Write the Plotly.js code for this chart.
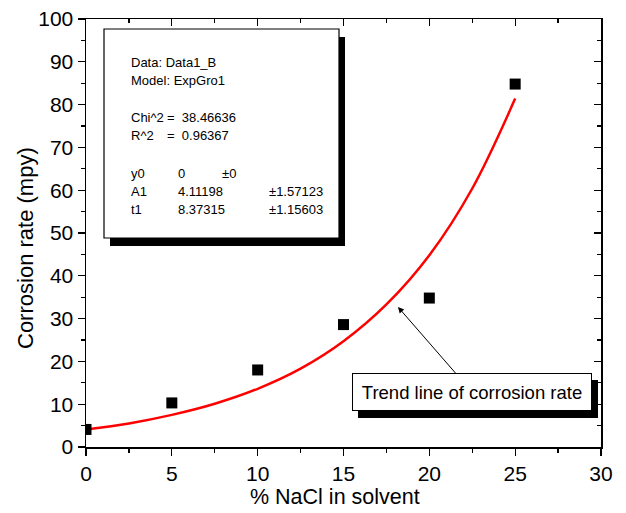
<!DOCTYPE html>
<html><head><meta charset="utf-8">
<script src="https://cdn.plot.ly/plotly-3.0.1.min.js"></script>
<style>body{margin:0;background:#fff}#c{width:626px;height:513px}</style>
</head><body><div id="c"></div>
<script>
// measured data
const naclPct = [0, 5, 10, 15, 20, 25];
const corrosionRate = [4.1, 10.3, 18.0, 28.6, 34.8, 84.8];
// trend (ExpGro1 fit)
const fitX = [0, 2.5, 5, 7.5, 10, 12.5, 15, 17.5, 20, 22.5, 25];
const fitY = [4.1, 5.5, 7.5, 10.1, 13.6, 18.3, 24.7, 33.3, 44.8, 60.4, 81.4];
const xTitle = "% NaCl in solvent";
const yTitle = "Corrosion rate (mpy)";
const infoLines = [
  ["Data: Data1_B", "", ""],
  ["Model: ExpGro1", "", ""],
  ["Chi^2", "=  38.46636", ""],
  ["R^2", "=  0.96367", ""],
  ["y0", "0", "±0"],
  ["A1", "4.11198", "±1.57123"],
  ["t1", "8.37315", "±1.15603"]
];
const trendLabel = "Trend line of corrosion rate";

// pixel -> data / paper helpers (plot area 86..601 x 19..447)
const L = 86, R = 601, T = 19, B = 447;
const X = px => (px - L) / (R - L) * 30;
const Y = py => (B - py) / (B - T) * 100;
const PX = px => (px - L) / (R - L);
const PY = py => (B - py) / (B - T);
const FONT = "Liberation Sans, Arial, sans-serif";

const traces = [
  {x: fitX, y: fitY, mode: 'lines', line: {color: '#ff0000', width: 2.5, shape: 'spline'}, hoverinfo: 'skip'},
  {x: naclPct, y: corrosionRate, mode: 'markers', marker: {symbol: 'square', size: 11, color: '#000'}},
  {x: [0], y: [0], xaxis: 'x2', yaxis: 'y2', mode: 'markers', marker: {opacity: 0}, hoverinfo: 'skip'}
];

const lineY = [62, 80, 117, 135, 173, 191, 209];
const colX = [129, 165, 220];
const anns = [];
infoLines.forEach((ln, i) => {
  const xs = (i >= 4) ? [129, 176, i === 4 ? 220 : 267] : colX;
  ln.forEach((t, j) => {
    if (!t) return;
    anns.push({x: X(xs[j]), y: Y(lineY[i]), xref: 'x', yref: 'y', text: t, showarrow: false,
      xanchor: 'left', yanchor: 'middle', font: {family: FONT, size: 13, color: '#000'}});
  });
});
anns.push({x: X(398), y: Y(307), ax: X(472), ay: Y(392), axref: 'x', ayref: 'y', xref: 'x', yref: 'y',
  text: trendLabel, showarrow: true, arrowhead: 2, arrowsize: 1.2, arrowwidth: 1, arrowcolor: '#000',
  font: {family: FONT, size: 18.5, color: '#000'}, bgcolor: '#fff', bordercolor: '#000', borderwidth: 1,
  width: 236, height: 34, borderpad: 1});
// axis titles
anns.push({x: PX(335), y: PY(497), xref: 'paper', yref: 'paper', text: xTitle, showarrow: false,
  xanchor: 'center', yanchor: 'middle', font: {family: FONT, size: 21.5, color: '#000'}});
anns.push({x: PX(25), y: PY(248), xref: 'paper', yref: 'paper', text: yTitle, showarrow: false, textangle: -90,
  xanchor: 'center', yanchor: 'middle', font: {family: FONT, size: 22, color: '#000'}});

const shapes = [
  {type: 'rect', xref: 'x', yref: 'y', x0: X(110), x1: X(345), y0: Y(37), y1: Y(246), fillcolor: '#000', line: {width: 0}},
  {type: 'rect', xref: 'x', yref: 'y', x0: X(104), x1: X(339), y0: Y(29), y1: Y(238), fillcolor: '#fff', line: {color: '#000', width: 1.2}},
  {type: 'rect', xref: 'x', yref: 'y', x0: X(358), x1: X(598), y0: Y(380), y1: Y(418), fillcolor: '#000', line: {width: 0}}
];

const axBase = {showgrid: false, zeroline: false, showline: true, linecolor: '#000', linewidth: 1.5,
  tickcolor: '#000', tickwidth: 1.2, ticklen: 7, tickfont: {family: FONT, size: 21, color: '#000'}};

const layout = {
  width: 626, height: 513, margin: {l: L, r: 626 - R, t: T, b: 513 - B},
  paper_bgcolor: '#fff', plot_bgcolor: '#fff', showlegend: false,
  xaxis: Object.assign({}, axBase, {range: [0, 30], dtick: 5, ticks: 'outside',
    minor: {dtick: 2.5, ticks: 'outside', ticklen: 4, tickcolor: '#000', tickwidth: 1.2}}),
  yaxis: Object.assign({}, axBase, {range: [0, 100], dtick: 10, ticks: 'outside',
    minor: {dtick: 5, ticks: 'outside', ticklen: 4, tickcolor: '#000', tickwidth: 1.2}}),
  xaxis2: Object.assign({}, axBase, {range: [0, 30], dtick: 5, ticks: 'inside', overlaying: 'x', side: 'top', anchor: 'y2',
    showticklabels: false, minor: {dtick: 2.5, ticks: 'inside', ticklen: 4, tickcolor: '#000', tickwidth: 1.2}}),
  yaxis2: Object.assign({}, axBase, {range: [0, 100], dtick: 10, ticks: 'inside', overlaying: 'y', side: 'right', anchor: 'x2',
    showticklabels: false, minor: {dtick: 5, ticks: 'inside', ticklen: 4, tickcolor: '#000', tickwidth: 1.2}}),
  shapes: shapes, annotations: anns
};
Plotly.newPlot('c', traces, layout, {staticPlot: true});
</script></body></html>
